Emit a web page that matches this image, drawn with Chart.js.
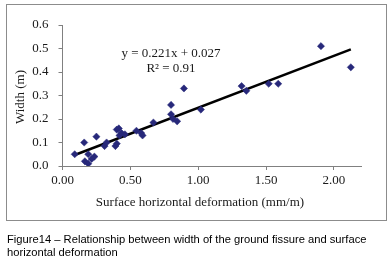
<!DOCTYPE html>
<html>
<head>
<meta charset="utf-8">
<script src="https://cdn.jsdelivr.net/npm/chart.js@4"></script>
<style>
  html, body { margin: 0; padding: 0; background: #ffffff; }
  #wrap { position: relative; width: 392px; height: 265px; overflow: hidden; }
  #c { position: absolute; left: 0; top: 0; }
  #frame { position: absolute; left: 6px; top: 4px; width: 379px; height: 215px; border: 1px solid #8c8c8c; box-sizing: content-box; pointer-events: none; }
  #caption { position: absolute; left: 7px; top: 233px; width: 385px; font-family: "Liberation Sans", Arial, sans-serif; font-size: 11.2px; line-height: 12.5px; color: #000000; }
</style>
</head>
<body>
<div id="wrap">
  <canvas id="c" width="392" height="265"></canvas>
  <div id="frame"></div>
  <div id="caption">Figure14 – Relationship between width of the ground fissure and surface horizontal deformation</div>
</div>
<script>
// Surface horizontal deformation (mm/m)
const deformation = [0.09, 0.16, 0.25, 0.165, 0.19, 0.19, 0.235, 0.215, 0.31, 0.325,
  0.39, 0.40, 0.40, 0.415, 0.42, 0.435, 0.46, 0.545, 0.58, 0.59,
  0.67, 0.80, 0.80, 0.815, 0.845, 0.895, 1.02, 1.32, 1.355, 1.52,
  1.59, 1.905, 2.125];
// Width of ground fissure (m)
const widths = [0.05, 0.10, 0.125, 0.02, 0.01, 0.05, 0.04, 0.03, 0.085, 0.10,
  0.085, 0.095, 0.155, 0.16, 0.13, 0.14, 0.135, 0.15, 0.14, 0.13,
  0.185, 0.26, 0.22, 0.20, 0.19, 0.33, 0.24, 0.34, 0.32, 0.35,
  0.35, 0.51, 0.42];
const trendSlope = 0.221;
const trendIntercept = 0.027;
const equationLines = ["y = 0.221x + 0.027", "R² = 0.91"];
const xTitle = "Surface horizontal deformation (mm/m)";
const yTitle = "Width (m)";

const points = deformation.map((x, i) => ({ x: x, y: widths[i] }));
const xMin = Math.min(...deformation), xMax = Math.max(...deformation);
const trend = [xMin, xMax].map(x => ({ x: x, y: trendSlope * x + trendIntercept }));

const serif = "'Liberation Serif', 'Times New Roman', serif";

const textPlugin = {
  id: 'texts',
  afterDraw(chart) {
    const ctx = chart.ctx;
    ctx.save();
    ctx.fillStyle = '#1a1a1a';
    ctx.font = "13px " + serif;
    ctx.textAlign = 'center';
    ctx.textBaseline = 'middle';
    ctx.fillText(equationLines[0], 171, 54);
    ctx.fillText(equationLines[1], 171, 69);
    ctx.fillText(xTitle, 200, 203);
    ctx.translate(21, 97);
    ctx.rotate(-Math.PI / 2);
    ctx.fillText(yTitle, 0, 0);
    ctx.restore();
  }
};

new Chart(document.getElementById('c'), {
  type: 'scatter',
  data: {
    datasets: [
      {
        label: 'Trend',
        type: 'line',
        data: trend,
        borderColor: '#000000',
        borderWidth: 2.5,
        pointRadius: 0,
        fill: false,
        order: 2
      },
      {
        label: 'Width',
        data: points,
        pointStyle: 'rectRot',
        pointRadius: 3.6,
        backgroundColor: '#27287a',
        borderColor: '#27287a',
        borderWidth: 0.5,
        order: 1
      }
    ]
  },
  options: {
    responsive: false,
    animation: false,
    devicePixelRatio: 1,
    layout: { padding: { left: 0, right: 31, top: 25, bottom: 0 } },
    plugins: { legend: { display: false }, tooltip: { enabled: false } },
    scales: {
      x: {
        type: 'linear',
        min: 0, max: 2.2,
        afterFit(s) { s.height = 265 - 166; },
        afterBuildTicks(s) { s.ticks = [0, 0.5, 1.0, 1.5, 2.0].map(v => ({ value: v })); },
        ticks: {
          stepSize: 0.5,
          padding: 3,
          color: '#1a1a1a',
          font: { family: serif, size: 13 },
          maxRotation: 0,
          callback: v => Number(v).toFixed(2)
        },
        grid: { display: true, drawOnChartArea: false, drawTicks: true, tickLength: 4, color: '#808080' },
        border: { display: true, color: '#808080', width: 1 }
      },
      y: {
        type: 'linear',
        min: 0, max: 0.6,
        afterFit(s) { s.width = 62.5; },
        ticks: {
          stepSize: 0.1,
          padding: 10,
          color: '#1a1a1a',
          font: { family: serif, size: 13 },
          callback: v => Number(v).toFixed(1)
        },
        grid: { display: true, drawOnChartArea: false, drawTicks: true, tickLength: 4, color: '#808080' },
        border: { display: true, color: '#808080', width: 1 }
      }
    }
  },
  plugins: [textPlugin]
});
</script>
</body>
</html>
